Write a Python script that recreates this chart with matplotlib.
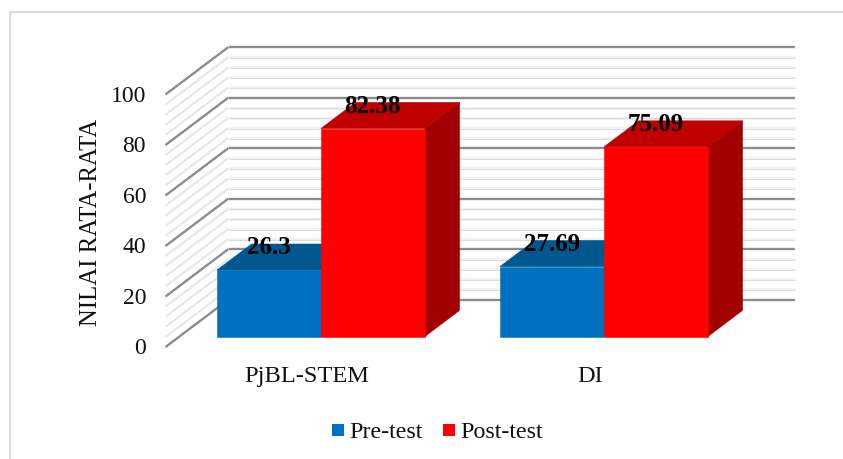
import matplotlib
matplotlib.use('Agg')
from matplotlib import pyplot as plt
from matplotlib.patches import Polygon, Rectangle

categories = ['PjBL-STEM', 'DI']
series_names = ['Pre-test', 'Post-test']
pre_test = [26.3, 27.69]
post_test = [82.38, 75.09]
y_ticks = [0, 20, 40, 60, 80, 100]
minor_ticks = [v for v in range(0, 101, 4) if v % 20 != 0]

# warna depan, atas, samping
colors = [('#0070C0', '#00588F', '#00446F'), ('#FF0000', '#C00000', '#A00000')]

plt.rcParams['font.family'] = ['Liberation Serif', 'DejaVu Serif']

# proyeksi miring: kategori, nilai, kedalaman -> piksel
X0, Y0 = 165.5, 348
CAT_W = 283
DX, DY = 63, 47.5
SCALE = 2.525
BAR_W = 104 / CAT_W
D_FRONT, D_BACK = 0.22, 0.77


def project(cat, val, depth):
    return (X0 + cat * CAT_W + depth * DX, Y0 - val * SCALE - depth * DY)


fig = plt.figure(figsize=(8.43, 4.6), dpi=100)
ax = fig.add_axes([0, 0, 1, 1])
ax.set_xlim(0, 843)
ax.set_ylim(460, 0)
ax.axis('off')

# bingkai hanya atas dan kiri
ax.plot([9.5, 843], [12.5, 12.5], color='#DCDCDC', lw=1.5, solid_capstyle='butt')
ax.plot([9.5, 9.5], [12.5, 460], color='#DCDCDC', lw=1.5, solid_capstyle='butt')


def wall_line(v, **kw):
    a, b = project(0, v, 0), project(0, v, 1)
    ax.plot([a[0], b[0]], [a[1], b[1]], solid_capstyle='butt', **kw)


def back_line(v, **kw):
    b, c = project(0, v, 1), project(2, v, 1)
    ax.plot([b[0], c[0]], [b[1], c[1]], solid_capstyle='butt', **kw)


for v in minor_ticks:
    wall_line(v, color='#E8E8E8', lw=1.6, zorder=1)
    back_line(v, color='#F2F2F2', lw=2.2, zorder=1)
    back_line(v - 0.3, color='#D8D8D8', lw=0.6, zorder=1)
for v in y_ticks:
    wall_line(v, color='#8C8C8C', lw=1.7, zorder=2)
    back_line(v, color='#8C8C8C', lw=1.7, zorder=2)


def draw_bar(cat_left, val, cols):
    cat_right = cat_left + BAR_W
    front = [project(cat_left, 0, D_FRONT), project(cat_right, 0, D_FRONT),
             project(cat_right, val, D_FRONT), project(cat_left, val, D_FRONT)]
    top = [project(cat_left, val, D_FRONT), project(cat_right, val, D_FRONT),
           project(cat_right, val, D_BACK), project(cat_left, val, D_BACK)]
    side = [project(cat_right, 0, D_FRONT), project(cat_right, 0, D_BACK),
            project(cat_right, val, D_BACK), project(cat_right, val, D_FRONT)]
    ax.add_patch(Polygon(side, fc=cols[2], ec=cols[2], lw=0.4, zorder=3))
    ax.add_patch(Polygon(top, fc=cols[1], ec=cols[1], lw=0.4, zorder=3))
    ax.add_patch(Polygon(front, fc=cols[0], ec=cols[0], lw=0.4, zorder=3))


for i in range(len(categories)):
    centre = i + 0.5
    draw_bar(centre - BAR_W, pre_test[i], colors[0])
    draw_bar(centre, post_test[i], colors[1])
    for left, val in [(centre - BAR_W, pre_test[i]), (centre, post_test[i])]:
        x, y = project(left + BAR_W / 2, val, D_FRONT)
        ax.text(x, y - 23.5, str(val), ha='center', va='center', fontsize=18,
                fontweight='bold', color='black', zorder=5)
    x, y = project(centre, 0, 0)
    ax.text(x, 377, categories[i], ha='center', va='center', fontsize=17.6, color='#111111')

for v in y_ticks:
    x, y = project(0, v, 0)
    ax.text(146, y + 1, str(v), ha='right', va='center', fontsize=17, color='#111111')

ax.text(91, 222, 'NILAI RATA-RATA', rotation=90, ha='center', va='center',
        fontsize=17.8, color='#111111')

# legend
for name, cols, sq_x in zip(series_names, colors, [332, 443]):
    ax.add_patch(Rectangle((sq_x, 425), 12, 12, fc=cols[0], ec='none'))
    ax.text(sq_x + 17, 432.5, name, ha='left', va='center', fontsize=17.3, color='#111111')

fig.savefig('out.png', dpi=100)
